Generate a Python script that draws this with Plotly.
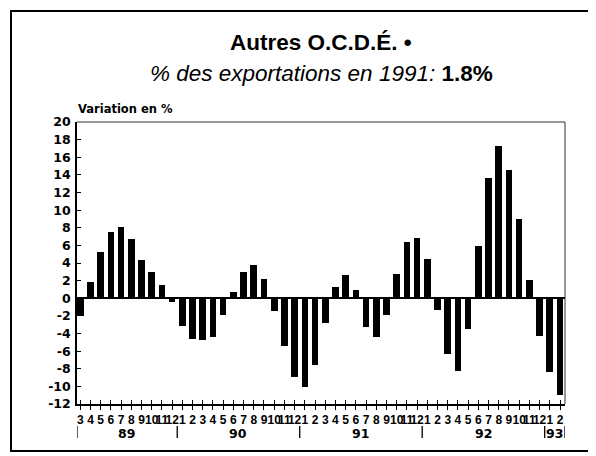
import plotly.graph_objects as go

# ---------------- data ----------------
month_labels = ["3", "4", "5", "6", "7", "8", "9", "10", "11", "12",
                "1", "2", "3", "4", "5", "6", "7", "8", "9", "10", "11", "12",
                "1", "2", "3", "4", "5", "6", "7", "8", "9", "10", "11", "12",
                "1", "2", "3", "4", "5", "6", "7", "8", "9", "10", "11", "12",
                "1", "2"]
year_labels = ["89", "90", "91", "92", "93"]
year_counts = [10, 12, 12, 12, 2]

values = [-2.0, 1.8, 5.2, 7.5, 8.1, 6.7, 4.3, 3.0, 1.5, -0.4,
          -3.1, -4.6, -4.7, -4.4, -1.9, 0.7, 3.0, 3.8, 2.2, -1.5, -5.4, -8.9,
          -10.1, -7.6, -2.8, 1.3, 2.65, 0.95, -3.3, -4.4, -1.9, 2.75, 6.35, 6.8,
          4.5, -1.3, -6.3, -8.3, -3.5, 5.9, 13.7, 17.3, 14.5, 9.0, 2.05, -4.3,
          -8.4, -11.0]

y_tick_values = [20, 18, 16, 14, 12, 10, 8, 6, 4, 2, 0, -2, -4, -6, -8, -10, -12]
y_tick_labels = ["20", "18", "16", "14", "12", "10", "8", "6", "4", "2", "0",
                 "-2", "-4", "-6", "-8", "-10", "-12"]

title_text = "Autres O.C.D.É. •"
subtitle_italic = "% des exportations en 1991: "
subtitle_bold = "1.8%"
y_title = "Variation en %"

# categories built from lists
year_of_bar = []
for y, c in zip(year_labels, year_counts):
    year_of_bar += [y] * c
categories = [f"{m}/{y}" for m, y in zip(month_labels, year_of_bar)]

X_RANGE = [-0.32, 47.49]

# the page body has an 8px margin: the figure is drawn from (8, 8)
OFF = 8
PLOT_L, PLOT_R, PLOT_T, PLOT_B = 77, 565, 122, 404

fig = go.Figure()
fig.add_trace(go.Bar(x=categories, y=values, marker=dict(color="black", line=dict(width=0)),
                     width=0.65, showlegend=False, hoverinfo="skip"))
# invisible trace to realise the overlaid axis carrying the inside ticks
fig.add_trace(go.Scatter(x=categories, y=values, xaxis="x2", mode="markers",
                         marker=dict(opacity=0), showlegend=False, hoverinfo="skip"))

tick_font = dict(family="Liberation Sans, Arial", size=12, color="black", weight="bold")
fig.update_layout(
    width=596 - OFF, height=456 - OFF,
    margin=dict(l=PLOT_L - OFF, r=596 - PLOT_R, t=PLOT_T - OFF, b=456 - PLOT_B),
    paper_bgcolor="white", plot_bgcolor="white",
    bargap=0,
    xaxis=dict(type="category", categoryorder="array", categoryarray=categories,
               range=X_RANGE, tickmode="array", tickvals=categories, ticktext=month_labels,
               tickangle=0, ticks="outside", ticklen=4, tickwidth=1, tickcolor="black",
               tickfont=tick_font, showgrid=False, zeroline=False,
               showline=True, linecolor="black", linewidth=1.5, ticklabelstandoff=0),
    xaxis2=dict(type="category", categoryorder="array", categoryarray=categories,
                overlaying="x", anchor="y", side="bottom", range=X_RANGE,
                tickmode="array", tickvals=categories, showticklabels=False,
                ticks="inside", ticklen=4, tickwidth=1, tickcolor="black",
                showgrid=False, zeroline=False, showline=False),
    yaxis=dict(range=[-12, 20], tickmode="array", tickvals=y_tick_values, ticktext=y_tick_labels,
               ticks="inside", ticklen=4, tickwidth=1, tickcolor="black",
               tickfont=dict(family="DejaVu Sans", size=12.5, color="black", weight="bold"),
               showgrid=False, zeroline=True, zerolinecolor="black", zerolinewidth=1.5,
               showline=True, linecolor="black", linewidth=1.5, ticklabelstandoff=2),
)

def px_to_paper_x(px):
    return (px - PLOT_L) / float(PLOT_R - PLOT_L)

def px_to_paper_y(py):
    return (PLOT_B - py) / float(PLOT_B - PLOT_T)

annotations = [
    dict(text=f"<b>{title_text}</b>", x=0.5, y=px_to_paper_y(42), xref="paper", yref="paper",
         xanchor="center", yanchor="middle", showarrow=False,
         font=dict(family="Liberation Sans, Arial", size=22.5, color="black")),
    dict(text=f"<i>{subtitle_italic}</i><b>{subtitle_bold}</b>", x=0.5, y=px_to_paper_y(73),
         xref="paper", yref="paper", xanchor="center", yanchor="middle", showarrow=False,
         font=dict(family="Liberation Sans, Arial", size=22.5, color="black")),
    dict(text=f"<b>{y_title}</b>", x=px_to_paper_x(76), y=px_to_paper_y(109), xref="paper",
         yref="paper", xanchor="left", yanchor="middle", showarrow=False,
         font=dict(family="DejaVu Sans", size=11.5, color="black")),
]

shapes = []
# year labels and separators, positioned on the category scale
start = 0
bounds = [X_RANGE[0]]
for y, c in zip(year_labels, year_counts):
    centre = start + (c - 1) / 2.0
    annotations.append(dict(text=f"<b>{y}</b>", x=centre, y=px_to_paper_y(433.5), xref="x",
                            yref="paper", xanchor="center", yanchor="middle", showarrow=False,
                            font=dict(family="DejaVu Sans", size=12.5, color="black")))
    start += c
    bounds.append(start - 0.5 if start < len(values) else X_RANGE[1])
for b in bounds:
    shapes.append(dict(type="line", xref="x", yref="paper", x0=b, x1=b,
                       y0=px_to_paper_y(426), y1=px_to_paper_y(438),
                       line=dict(color="black", width=1.3)))

# plot frame top & right edges (thin)
shapes.append(dict(type="line", xref="paper", yref="paper", x0=0, x1=1, y0=1, y1=1,
                   line=dict(color="#333", width=1)))
shapes.append(dict(type="line", xref="paper", yref="paper", x0=1, x1=1, y0=0, y1=1,
                   line=dict(color="#333", width=1)))
# outer frame
shapes.append(dict(type="rect", xref="paper", yref="paper",
                   x0=px_to_paper_x(11), x1=px_to_paper_x(589),
                   y0=px_to_paper_y(451), y1=px_to_paper_y(11),
                   line=dict(color="black", width=2)))

fig.update_layout(annotations=annotations, shapes=shapes)
fig.write_html("out.html")
